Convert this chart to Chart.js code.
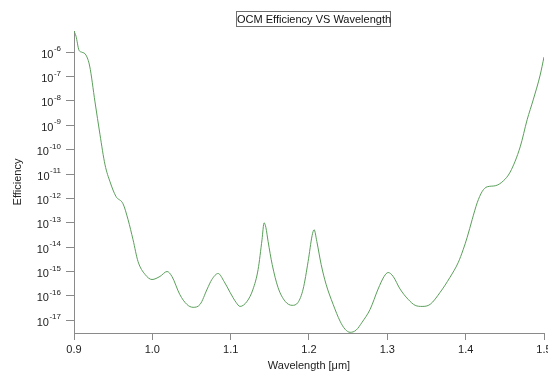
<!DOCTYPE html>
<html>
<head>
<meta charset="utf-8">
<script src="https://cdn.jsdelivr.net/npm/chart.js@4.4.0/dist/chart.umd.min.js"></script>
<style>
    html, body { margin: 0; padding: 0; background: #fff; }
    #wrap { position: relative; width: 548px; height: 373px; }
    #titulo {
        position: absolute; left: 236px; top: 11px; width: 153px; height: 14px;
        border: 1px solid #707070; color: #111; text-align: center; white-space: nowrap;
        font: 11px "Liberation Sans", Arial, sans-serif; line-height: 14px;
    }
</style>
</head>
<body>
<div id="wrap">
    <canvas id="grafico"></canvas>
    <div id="titulo"></div>
</div>
<script>
// Textos
const tituloGrafico = 'OCM Efficiency VS Wavelength';
const tituloX = 'Wavelength [\u03bcm]';
const tituloY = 'Efficiency';

// Comprimento de onda (um) e eficiencia
const comprimentos = [
    0.900, 0.9026, 0.9064, 0.910, 0.9153, 0.920, 0.9268, 0.9332, 0.9396, 0.946,
    0.9536, 0.9626, 0.969, 0.9754, 0.9817, 0.9907, 0.9996, 1.0098, 1.0188, 1.025,
    1.035, 1.044, 1.052, 1.061, 1.070, 1.076, 1.084, 1.0916, 1.0992, 1.1069,
    1.112, 1.121, 1.1286, 1.135, 1.140, 1.1427, 1.145, 1.1478, 1.153, 1.1605,
    1.1695, 1.1784, 1.186, 1.1925, 1.1989, 1.204, 1.2065, 1.210, 1.2155, 1.2218,
    1.2308, 1.2397, 1.246, 1.2525, 1.260, 1.2678, 1.278, 1.2882, 1.2959, 1.301,
    1.3074, 1.3163, 1.3266, 1.3355, 1.3444, 1.3547, 1.3674, 1.380, 1.3904, 1.3968,
    1.4019, 1.4083, 1.4147, 1.421, 1.4275, 1.4377, 1.448, 1.4568, 1.4696, 1.4785,
    1.4862, 1.4951, 1.500
];
const eficiencia = [
    7.4e-6, 4.5e-6, 1.2e-6, 1.0e-6, 7.6e-7, 2.7e-7, 9.1e-9, 4.1e-10, 2.4e-11, 4.8e-12,
    1.2e-12, 6.0e-13, 1.35e-13, 2.0e-14, 2.6e-15, 7.6e-16, 4.7e-16, 6.3e-16, 1.0e-15, 6.3e-16,
    1.15e-16, 4.5e-17, 3.4e-17, 4.5e-17, 1.9e-16, 4.7e-16, 8.3e-16, 3.9e-16, 1.4e-16, 5.4e-17,
    3.7e-17, 6.0e-17, 1.9e-16, 1.2e-15, 2.0e-14, 1.0e-13, 6.3e-14, 1.7e-14, 1.95e-15, 2.2e-16,
    6.0e-17, 4.1e-17, 5.4e-17, 1.9e-16, 2.6e-15, 3.0e-14, 5.2e-14, 1.7e-14, 1.95e-15, 3.0e-16,
    4.5e-17, 9.1e-18, 4.3e-18, 3.2e-18, 3.9e-18, 8.3e-18, 2.8e-17, 1.9e-16, 6.3e-16, 9.1e-16,
    6.3e-16, 1.9e-16, 7.2e-17, 4.1e-17, 3.7e-17, 4.5e-17, 1.4e-16, 5.8e-16, 2.3e-15, 7.9e-15,
    2.5e-14, 1.35e-13, 6.6e-13, 1.9e-12, 3.0e-12, 3.3e-12, 5.2e-12, 1.2e-11, 1.3e-10, 1.7e-9,
    1.1e-8, 1.15e-7, 6.3e-7
];

// Ticks
const ticksX = [0.9, 1.0, 1.1, 1.2, 1.3, 1.4, 1.5];
const expoentesY = [-6, -7, -8, -9, -10, -11, -12, -13, -14, -15, -16, -17];

document.getElementById('titulo').textContent = tituloGrafico;

const corEixo = '#8a8a8a';
const corLinha = '#5a9f5a';
const fonte = '"Liberation Sans", Arial, sans-serif';

// Rotulos do eixo Y no formato 10 com expoente sobrescrito
const rotulosY = {
    id: 'rotulosY',
    afterDraw(chart) {
        const { ctx, scales: { y } } = chart;
        ctx.save();
        ctx.fillStyle = '#222';
        ctx.textAlign = 'right';
        ctx.textBaseline = 'middle';
        expoentesY.forEach(e => {
            const py = y.getPixelForValue(Math.pow(10, e));
            const exp = String(e);
            ctx.font = '8px ' + fonte;
            const w = ctx.measureText(exp).width;
            ctx.fillText(exp, 61, py - 3);
            ctx.font = '11px ' + fonte;
            ctx.fillText('10', 61 - w - 0.5, py + 2.5);
        });
        ctx.restore();
    }
};

new Chart(document.getElementById('grafico'), {
    type: 'line',
    data: {
        datasets: [{
            data: comprimentos.map((x, i) => ({ x: x, y: eficiencia[i] })),
            borderColor: corLinha,
            borderWidth: 1,
            pointRadius: 0,
            cubicInterpolationMode: 'monotone',
            fill: false
        }]
    },
    options: {
        responsive: true,
        maintainAspectRatio: false,
        animation: false,
        layout: { padding: { top: 31, right: 4, left: 0, bottom: 0 } },
        plugins: { legend: { display: false }, tooltip: { enabled: false } },
        scales: {
            x: {
                type: 'linear',
                min: 0.9,
                max: 1.5,
                afterBuildTicks: (scale) => { scale.ticks = ticksX.map(v => ({ value: v })); },
                afterFit: (scale) => { scale.height = 40; scale.paddingLeft = 0; scale.paddingRight = 0; },
                grid: { drawOnChartArea: false, drawTicks: true, tickLength: 7, color: corEixo },
                border: { display: true, color: corEixo, width: 1 },
                ticks: {
                    color: '#222', padding: 3, maxRotation: 0, autoSkip: false,
                    font: { family: fonte, size: 11 },
                    callback: (v) => Number(v).toFixed(1)
                },
                title: {
                    display: true, text: tituloX, color: '#222',
                    font: { family: fonte, size: 11 }, padding: { top: 0, bottom: 0 }
                }
            },
            y: {
                type: 'logarithmic',
                min: 3.2e-18,
                max: 7.4e-6,
                afterBuildTicks: (scale) => { scale.ticks = expoentesY.map(e => ({ value: Math.pow(10, e) })); },
                afterFit: (scale) => { scale.width = 74; scale.paddingTop = 0; scale.paddingBottom = 0; },
                grid: { drawOnChartArea: false, drawTicks: true, tickLength: 8, color: corEixo },
                border: { display: true, color: corEixo, width: 1 },
                ticks: { display: false },
                title: {
                    display: true, text: tituloY, color: '#222',
                    font: { family: fonte, size: 11 }, padding: { top: 11, bottom: 0 }
                }
            }
        }
    },
    plugins: [rotulosY]
});
</script>
</body>
</html>
